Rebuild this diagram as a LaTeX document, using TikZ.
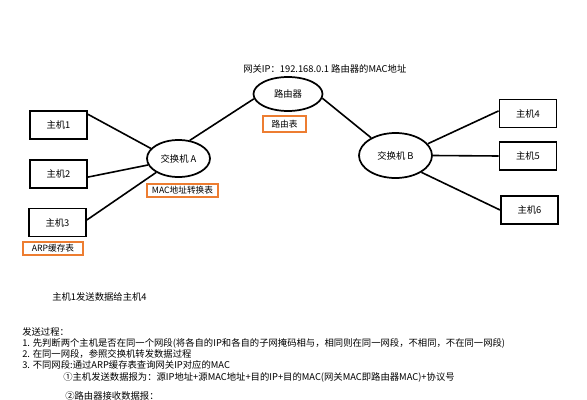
\documentclass[tikz,border=0pt]{standalone}
\usepackage{fontspec}
\usepackage{xcolor}
\usetikzlibrary{shapes.geometric}
\newfontfamily\cjk{Noto Sans CJK SC}
\definecolor{tableorange}{RGB}{237,125,49}

\begin{document}
\begin{tikzpicture}[x=0.75pt,y=0.75pt,yscale=-1,xscale=1,
  hostbox/.style={draw,line width=1.4pt,minimum width=42.75pt,minimum height=21pt,inner sep=0pt,font=\cjk\fontsize{7}{8}\selectfont},
  switchnode/.style={draw,ellipse,line width=1.3pt,inner sep=0pt,font=\cjk\fontsize{7}{8}\selectfont},
  tablebox/.style={draw=tableorange,line width=1.4pt,inner sep=0pt,minimum height=9.75pt,font=\cjk\fontsize{6.5}{7}\selectfont},
  plaintext/.style={anchor=west,inner sep=0pt,font=\cjk\fontsize{7}{8}\selectfont},
  link/.style={line width=1.2pt}]

\useasboundingbox (0,0) rectangle (587,400);

% hosts on the left
\node [hostbox] (host1) at (58.5,125) {主机1};
\node [hostbox] (host2) at (58.5,174) {主机2};
\node [hostbox] (host3) at (57.5,222.5) {主机3};
\node [tablebox,minimum width=45pt] (arp) at (53,248.5) {ARP缓存表};

% switch A, router, switch B
\node [switchnode,minimum width=47.25pt,minimum height=27.75pt] (swA) at (178.5,158.5) {交换机 A};
\node [tablebox,minimum width=53.25pt] (mactab) at (182.5,190.5) {MAC地址转换表};
\node [switchnode,minimum width=51.75pt,minimum height=25.5pt] (router) at (288,94) {路由器};
\node [tablebox,minimum width=32.25pt,minimum height=12pt] (routetab) at (284.5,124) {路由表};
\node [plaintext] (gateway) at (243,69) {网关IP：192.168.0.1 路由器的MAC地址};
\node [switchnode,minimum width=54.75pt,minimum height=33.75pt] (swB) at (395.5,155.5) {交换机 B};

% hosts on the right
\node [hostbox] (host4) at (528,113.5) {主机4};
\node [hostbox] (host5) at (528,156) {主机5};
\node [hostbox] (host6) at (529.5,210) {主机6};

% links
\draw [link] (host1.20) -- (swA.160);
\draw [link] (host2.-6) -- (swA.192);
\draw [link] (host3.5) -- (swA.212);
\draw [link] (swA.58) -- (router.188);
\draw [link] (router.-7) -- (swB.144);
\draw [link] (swB.20) -- (host4.175);
\draw [link] (swB.east) -- (host5.west);
\draw [link] (swB.-33) -- (host6.west);

% explanation
\node [plaintext] (title) at (52,297) {主机1发送数据给主机4};
\node [plaintext] (step0) at (22,332) {发送过程：};
\node [plaintext] (step1) at (22,343) {1. 先判断两个主机是否在同一个网段(将各自的IP和各自的子网掩码相与，相同则在同一网段，不相同，不在同一网段)};
\node [plaintext] (step2) at (22,354) {2. 在同一网段，参照交换机转发数据过程};
\node [plaintext] (step3) at (22,365) {3. 不同网段:通过ARP缓存表查询网关IP对应的MAC};
\node [plaintext] (sub1) at (63,377) {①主机发送数据报为：源IP地址+源MAC地址+目的IP+目的MAC(网关MAC即路由器MAC)+协议号};
\node [plaintext] (sub2) at (65,396) {②路由器接收数据报：};

\end{tikzpicture}
\end{document}
